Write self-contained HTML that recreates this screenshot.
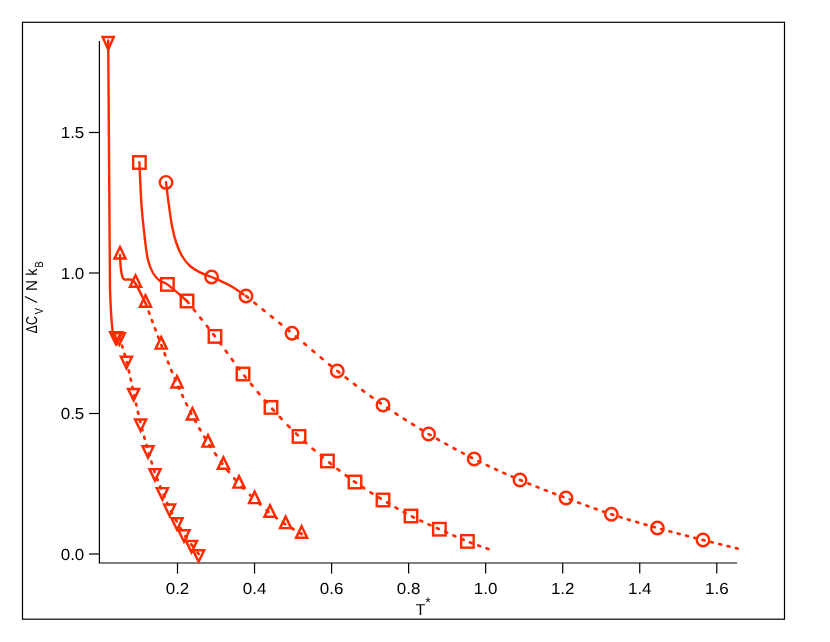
<!DOCTYPE html>
<html><head><meta charset="utf-8"><title>chart</title>
<style>
html,body{margin:0;padding:0;background:#fff;}
body{width:830px;height:642px;overflow:hidden;font-family:"Liberation Sans",sans-serif;}
svg{display:block;will-change:transform;}
text{font-family:"Liberation Sans",sans-serif;fill:#000;text-rendering:geometricPrecision;}
</style></head><body>
<svg width="830" height="642" viewBox="0 0 830 642">
<rect x="0" y="0" width="830" height="642" fill="#fff"/>

<rect x="22.5" y="22.3" width="762" height="596.9" fill="none" stroke="#000" stroke-width="1.2"/>
<path d="M99.4 41 V563 H737.2" fill="none" stroke="#000" stroke-width="1.2"/>
<path d="M89 554.00 H99.4" stroke="#000" stroke-width="1.2"/>
<text transform="translate(84.3 559.80) scale(1.06 1)" font-size="16" text-anchor="end">0.0</text>
<path d="M89 413.50 H99.4" stroke="#000" stroke-width="1.2"/>
<text transform="translate(84.3 419.30) scale(1.06 1)" font-size="16" text-anchor="end">0.5</text>
<path d="M89 273.00 H99.4" stroke="#000" stroke-width="1.2"/>
<text transform="translate(84.3 278.80) scale(1.06 1)" font-size="16" text-anchor="end">1.0</text>
<path d="M89 132.50 H99.4" stroke="#000" stroke-width="1.2"/>
<text transform="translate(84.3 138.30) scale(1.06 1)" font-size="16" text-anchor="end">1.5</text>
<path d="M177.50 563 V573.6" stroke="#000" stroke-width="1.2"/>
<text transform="translate(177.50 594) scale(1.06 1)" font-size="16" text-anchor="middle">0.2</text>
<path d="M254.54 563 V573.6" stroke="#000" stroke-width="1.2"/>
<text transform="translate(254.54 594) scale(1.06 1)" font-size="16" text-anchor="middle">0.4</text>
<path d="M331.58 563 V573.6" stroke="#000" stroke-width="1.2"/>
<text transform="translate(331.58 594) scale(1.06 1)" font-size="16" text-anchor="middle">0.6</text>
<path d="M408.62 563 V573.6" stroke="#000" stroke-width="1.2"/>
<text transform="translate(408.62 594) scale(1.06 1)" font-size="16" text-anchor="middle">0.8</text>
<path d="M485.66 563 V573.6" stroke="#000" stroke-width="1.2"/>
<text transform="translate(485.66 594) scale(1.06 1)" font-size="16" text-anchor="middle">1.0</text>
<path d="M562.70 563 V573.6" stroke="#000" stroke-width="1.2"/>
<text transform="translate(562.70 594) scale(1.06 1)" font-size="16" text-anchor="middle">1.2</text>
<path d="M639.74 563 V573.6" stroke="#000" stroke-width="1.2"/>
<text transform="translate(639.74 594) scale(1.06 1)" font-size="16" text-anchor="middle">1.4</text>
<path d="M716.78 563 V573.6" stroke="#000" stroke-width="1.2"/>
<text transform="translate(716.78 594) scale(1.06 1)" font-size="16" text-anchor="middle">1.6</text>
<text transform="translate(415.6 615) scale(1.03 1)" font-size="15.8">T</text>
<text x="425.3" y="607.4" font-size="14">*</text>
<g transform="translate(36.5 333) rotate(-90)"><text transform="translate(-0.16 0.00) scale(0.770 1)" font-size="15.8">Δ</text><text transform="translate(8.07 0.00) scale(0.780 1)" font-size="15.8">C</text><text transform="translate(18.66 6.10) scale(0.785 1)" font-size="11.8">V</text><text transform="translate(41.97 0.00) scale(0.952 1)" font-size="15.8">N</text><text transform="translate(57.32 0.00) scale(0.919 1)" font-size="15.8">k</text><text transform="translate(65.44 6.10) scale(0.780 1)" font-size="11.8">B</text><path d="M30.4 0.5 L36.4 -11.6" stroke="#000" stroke-width="1.15"/></g>
<g fill="none" stroke="#ff2a00" stroke-width="2.4" stroke-linejoin="miter">
<path d="M165.85 181.21 L166.00 182.40 C166.50 186.33 168.00 198.73 169.00 206.00 C170.00 213.27 170.83 220.00 172.00 226.00 C173.17 232.00 174.33 237.00 176.00 242.00 C177.67 247.00 179.67 252.00 182.00 256.00 C184.33 260.00 187.00 263.27 190.00 266.00 C193.00 268.73 196.40 270.57 200.00 272.40 C203.60 274.23 206.77 274.90 211.60 277.00 C216.43 279.10 223.53 282.02 229.00 285.00 C234.47 287.98 241.83 293.25 244.40 294.90"/>
<path d="M139.34 161.30 L139.40 162.50 C139.75 169.58 140.57 192.08 141.50 205.00 C142.43 217.92 143.92 230.83 145.00 240.00 C146.08 249.17 146.67 254.50 148.00 260.00 C149.33 265.50 151.00 269.50 153.00 273.00 C155.00 276.50 157.60 279.10 160.00 281.00 C162.40 282.90 162.90 281.07 167.40 284.40 C171.90 287.73 183.73 298.23 187.00 301.00"/>
<path d="M119.94 253.80 L120.00 255.00 C120.08 256.67 120.25 262.00 120.50 265.00 C120.75 268.00 121.17 271.00 121.50 273.00 C121.83 275.00 122.00 275.92 122.50 277.00 C123.00 278.08 123.08 279.05 124.50 279.50 C125.92 279.95 129.17 279.03 131.00 279.70 C132.83 280.37 133.10 279.62 135.50 283.50 C137.90 287.38 143.75 299.75 145.40 303.00"/>
<path d="M108.19 39.6 L108.2 40.8 L110 290 Q111 318 112.6 331 L115.6 336"/>
<path d="M246.05 296.04L247.95 297.57M254.35 302.72L256.25 304.25M262.65 309.40L264.55 310.93M270.95 316.10L272.85 317.63M279.26 322.81L281.16 324.35M287.56 329.56L289.46 331.12M295.86 336.39L297.76 337.98M304.16 343.37L306.06 344.98M312.46 350.42L314.36 352.04M320.76 357.46L322.66 359.05M329.07 364.36L330.97 365.92M337.37 371.05L339.27 372.55M345.67 377.54L347.57 379.01M353.97 383.91L355.87 385.35M362.27 390.14L364.17 391.55M370.57 396.22L372.47 397.59M378.88 402.13L380.78 403.46M387.18 407.86L389.08 409.14M395.48 413.40L397.38 414.65M403.78 418.78L405.68 419.98M412.08 424.00L413.98 425.17M420.38 429.08L422.28 430.23M428.69 434.05L430.59 435.17M436.99 438.90L438.89 439.99M445.29 443.62L447.19 444.68M453.59 448.20L455.49 449.23M461.89 452.65L463.79 453.65M470.19 456.97L472.09 457.94M478.50 461.14L480.40 462.07M486.80 465.16L488.70 466.06M495.10 469.03L497.00 469.90M503.40 472.79L505.30 473.63M511.70 476.44L513.60 477.26M520.01 480.00L521.91 480.81M528.31 483.46L530.21 484.23M536.61 486.79L538.51 487.53M544.91 490.02L546.81 490.75M553.21 493.19L555.11 493.91M561.51 496.32L563.41 497.03M569.82 499.43L571.72 500.14M578.12 502.53L580.02 503.23M586.42 505.59L588.32 506.28M594.72 508.58L596.62 509.26M603.02 511.49L604.92 512.13M611.32 514.28L613.22 514.90M619.63 516.94L621.53 517.53M627.93 519.49L629.83 520.06M636.23 521.96L638.13 522.51M644.53 524.36L646.43 524.90M652.83 526.72L654.73 527.25M661.13 529.04L663.03 529.56M669.44 531.30L671.34 531.80M677.74 533.50L679.64 533.99M686.04 535.65L687.94 536.14M694.34 537.79L696.24 538.27M702.64 539.91L704.54 540.39M710.94 542.00L712.84 542.47M719.25 544.05L721.15 544.51M727.55 546.07L729.45 546.53M735.85 548.08L737.75 548.54" stroke-width="2.7" stroke-linecap="round"/>
<path d="M187.05 301.07L188.56 302.97M193.66 309.35L195.18 311.25M200.27 317.63L201.78 319.53M206.83 325.92L208.33 327.82M213.31 334.20L214.77 336.10M219.59 342.49L221.00 344.39M225.68 350.77L227.07 352.67M231.72 359.05L233.12 360.95M237.87 367.34L239.31 369.24M244.28 375.62L245.79 377.52M250.94 383.91L252.50 385.81M257.80 392.19L259.40 394.09M264.88 400.47L266.54 402.37M272.22 408.76L273.94 410.66M279.84 417.04L281.63 418.94M287.77 425.33L289.64 427.23M296.02 433.54L297.92 435.37M304.30 441.33L306.20 443.04M312.59 448.65L314.49 450.28M320.87 455.64L322.77 457.21M329.15 462.42L331.05 463.95M337.44 469.00L339.34 470.47M345.72 475.30L347.62 476.70M354.01 481.30L355.91 482.63M362.29 486.97L364.19 488.22M370.57 492.33L372.47 493.52M378.86 497.47L380.76 498.64M387.14 502.50L389.04 503.64M395.43 507.40L397.33 508.50M403.71 512.10L405.61 513.14M411.99 516.51L413.89 517.47M420.28 520.56L422.18 521.45M428.56 524.36L430.46 525.21M436.85 528.05L438.75 528.91M445.13 531.77L447.03 532.62M453.41 535.46L455.31 536.29M461.70 539.04L463.60 539.84M469.98 542.42L471.88 543.15M478.27 545.49L480.17 546.17M486.55 548.40L488.45 549.06" stroke-width="2.7" stroke-linecap="round"/>
<path d="M145.64 303.38L146.35 305.28M148.74 311.72L149.45 313.62M151.83 320.05L152.54 321.95M154.95 328.38L155.66 330.28M158.09 336.72L158.82 338.62M161.30 345.05L162.04 346.95M164.56 353.38L165.31 355.28M167.86 361.72L168.62 363.62M171.22 370.05L172.01 371.95M174.70 378.38L175.51 380.28M178.34 386.72L179.19 388.62M182.15 395.05L183.05 396.95M186.15 403.38L187.08 405.28M190.33 411.72L191.31 413.62M194.72 420.05L195.75 421.95M199.35 428.38L200.44 430.28M204.25 436.72L205.41 438.62M209.43 445.05L210.66 446.95M214.98 453.38L216.31 455.28M220.94 461.72L222.36 463.62M227.31 470.05L228.83 471.95M234.20 478.38L235.86 480.28M241.72 486.72L243.56 488.62M249.98 494.93L251.88 496.73M258.31 502.77L260.21 504.52M266.64 510.21L268.54 511.81M274.98 516.86L276.88 518.26M283.31 522.76L285.21 524.04M291.64 528.10L293.54 529.24M299.98 533.03L301.60 534.00" stroke-width="2.7" stroke-linecap="round"/>
<path d="M119.38 337.26L119.98 339.16M122.02 345.55L122.62 347.45M124.56 353.84L125.11 355.74M126.81 362.12L127.27 364.02M128.75 370.41L129.17 372.31M130.55 378.69L130.96 380.59M132.34 386.98L132.75 388.88M134.18 395.26L134.60 397.16M136.02 403.55L136.44 405.45M137.88 411.84L138.31 413.74M139.82 420.12L140.28 422.02M141.91 428.41L142.42 430.31M144.16 436.69L144.69 438.59M146.52 444.98L147.07 446.88M148.92 453.26L149.47 455.16M151.37 461.55L151.95 463.45M153.97 469.84L154.60 471.74M156.88 478.12L157.60 480.02M160.14 486.41L160.92 488.31M163.56 494.69L164.37 496.59M167.16 502.98L168.03 504.88M171.12 511.26L172.11 513.16M175.58 519.55L176.64 521.45M180.25 527.84L181.37 529.74M185.40 536.12L186.70 538.02M191.29 544.41L192.69 546.31M197.59 552.69L198.60 554.00" stroke-width="2.7" stroke-linecap="round"/>
<circle cx="166.00" cy="182.40" r="6.25"/>
<circle cx="211.60" cy="277.00" r="6.25"/>
<circle cx="246.00" cy="296.00" r="6.25"/>
<circle cx="292.00" cy="333.20" r="6.25"/>
<circle cx="337.30" cy="371.00" r="6.25"/>
<circle cx="383.00" cy="405.00" r="6.25"/>
<circle cx="428.60" cy="434.00" r="6.25"/>
<circle cx="474.20" cy="459.00" r="6.25"/>
<circle cx="520.00" cy="480.00" r="6.25"/>
<circle cx="566.00" cy="498.00" r="6.25"/>
<circle cx="611.40" cy="514.30" r="6.25"/>
<circle cx="657.40" cy="528.00" r="6.25"/>
<circle cx="703.00" cy="540.00" r="6.25"/>
<rect x="133.15" y="156.25" width="12.5" height="12.5"/>
<rect x="161.15" y="278.15" width="12.5" height="12.5"/>
<rect x="180.75" y="294.75" width="12.5" height="12.5"/>
<rect x="208.75" y="330.15" width="12.5" height="12.5"/>
<rect x="236.75" y="367.75" width="12.5" height="12.5"/>
<rect x="264.75" y="401.15" width="12.5" height="12.5"/>
<rect x="292.75" y="430.15" width="12.5" height="12.5"/>
<rect x="321.15" y="454.75" width="12.5" height="12.5"/>
<rect x="348.75" y="475.75" width="12.5" height="12.5"/>
<rect x="376.75" y="493.75" width="12.5" height="12.5"/>
<rect x="404.75" y="509.75" width="12.5" height="12.5"/>
<rect x="433.15" y="522.95" width="12.5" height="12.5"/>
<rect x="461.15" y="535.15" width="12.5" height="12.5"/>
<path stroke-width="2.45" d="M120.00 247.00 L125.55 258.50 L114.45 258.50 Z"/>
<path stroke-width="2.45" d="M135.50 275.30 L141.05 286.80 L129.95 286.80 Z"/>
<path stroke-width="2.45" d="M145.50 295.30 L151.05 306.80 L139.95 306.80 Z"/>
<path stroke-width="2.45" d="M161.20 337.10 L166.75 348.60 L155.65 348.60 Z"/>
<path stroke-width="2.45" d="M177.00 376.00 L182.55 387.50 L171.45 387.50 Z"/>
<path stroke-width="2.45" d="M192.40 408.00 L197.95 419.50 L186.85 419.50 Z"/>
<path stroke-width="2.45" d="M208.00 435.10 L213.55 446.60 L202.45 446.60 Z"/>
<path stroke-width="2.45" d="M223.40 457.30 L228.95 468.80 L217.85 468.80 Z"/>
<path stroke-width="2.45" d="M239.00 476.10 L244.55 487.60 L233.45 487.60 Z"/>
<path stroke-width="2.45" d="M254.60 491.60 L260.15 503.10 L249.05 503.10 Z"/>
<path stroke-width="2.45" d="M270.00 505.30 L275.55 516.80 L264.45 516.80 Z"/>
<path stroke-width="2.45" d="M285.60 516.60 L291.15 528.10 L280.05 528.10 Z"/>
<path stroke-width="2.45" d="M301.60 526.30 L307.15 537.80 L296.05 537.80 Z"/>
<path stroke-width="2.45" d="M108.20 49.40 L113.75 37.00 L102.65 37.00 Z"/>
<path stroke-width="2.45" d="M115.60 343.70 L121.15 332.20 L110.05 332.20 Z"/>
<path stroke-width="2.45" d="M116.70 344.00 L122.25 332.50 L111.15 332.50 Z"/>
<path stroke-width="2.45" d="M119.30 344.70 L124.85 333.20 L113.75 333.20 Z"/>
<path stroke-width="2.45" d="M126.40 368.20 L131.95 356.70 L120.85 356.70 Z"/>
<path stroke-width="2.45" d="M133.60 400.40 L139.15 388.90 L128.05 388.90 Z"/>
<path stroke-width="2.45" d="M140.60 431.00 L146.15 419.50 L135.05 419.50 Z"/>
<path stroke-width="2.45" d="M148.00 457.80 L153.55 446.30 L142.45 446.30 Z"/>
<path stroke-width="2.45" d="M155.00 480.60 L160.55 469.10 L149.45 469.10 Z"/>
<path stroke-width="2.45" d="M162.40 499.60 L167.95 488.10 L156.85 488.10 Z"/>
<path stroke-width="2.45" d="M169.60 515.90 L175.15 504.40 L164.05 504.40 Z"/>
<path stroke-width="2.45" d="M177.00 529.80 L182.55 518.30 L171.45 518.30 Z"/>
<path stroke-width="2.45" d="M184.00 541.70 L189.55 530.20 L178.45 530.20 Z"/>
<path stroke-width="2.45" d="M191.50 552.40 L197.05 540.90 L185.95 540.90 Z"/>
<path stroke-width="2.45" d="M198.60 561.70 L204.15 550.20 L193.05 550.20 Z"/>
</g>
</svg></body></html>
